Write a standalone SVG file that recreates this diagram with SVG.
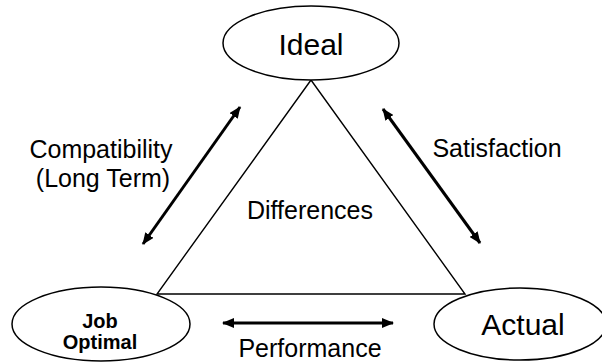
<svg xmlns="http://www.w3.org/2000/svg" width="602" height="362" viewBox="0 0 602 362">
  <style>
    .node { fill: #ffffff; stroke: #000000; stroke-width: 1.5; }
    .edge { fill: none; stroke: #000000; stroke-width: 1.4; }
    .arrow { fill: none; stroke: #000000; stroke-width: 3; marker-start: url(#head); marker-end: url(#head); }
    text { font-family: "Liberation Sans", Arial, sans-serif; fill: #000000; text-anchor: middle; }
    .big { font-size: 30px; }
    .lbl { font-size: 25px; }
    .bold { font-size: 20px; font-weight: bold; }
  </style>
  <defs>
    <marker id="head" viewBox="0 0 12 10" refX="11" refY="5" markerWidth="12" markerHeight="10" markerUnits="userSpaceOnUse" orient="auto-start-reverse">
      <path d="M0,0 L12,5 L0,10 Z" fill="#000000"/>
    </marker>
  </defs>
  <rect width="602" height="362" fill="#ffffff"/>

  <g id="connectors">
    <polygon class="edge" points="311,80 157,294 465,294"/>
    <line class="arrow" x1="143" y1="244" x2="240" y2="107"/>
    <line class="arrow" x1="383" y1="109" x2="480" y2="243"/>
    <line class="arrow" x1="223" y1="323" x2="393" y2="323"/>
  </g>

  <g id="labels">
    <text class="lbl" x="101" y="158">Compatibility</text>
    <text class="lbl" x="103" y="187">(Long Term)</text>
    <text class="lbl" x="497" y="157">Satisfaction</text>
    <text class="lbl" x="310" y="219">Differences</text>
    <text class="lbl" x="310" y="357">Performance</text>
  </g>

  <g id="ideal">
    <ellipse class="node" cx="311" cy="43" rx="88" ry="37"/>
    <text class="big" x="311" y="55">Ideal</text>
  </g>

  <g id="job-optimal">
    <ellipse class="node" cx="101" cy="324" rx="89" ry="37"/>
    <text class="bold" x="100" y="328">Job</text>
    <text class="bold" x="100" y="349">Optimal</text>
  </g>

  <g id="actual">
    <ellipse class="node" cx="520" cy="324" rx="86" ry="36"/>
    <text class="big" x="523" y="335">Actual</text>
  </g>
</svg>
